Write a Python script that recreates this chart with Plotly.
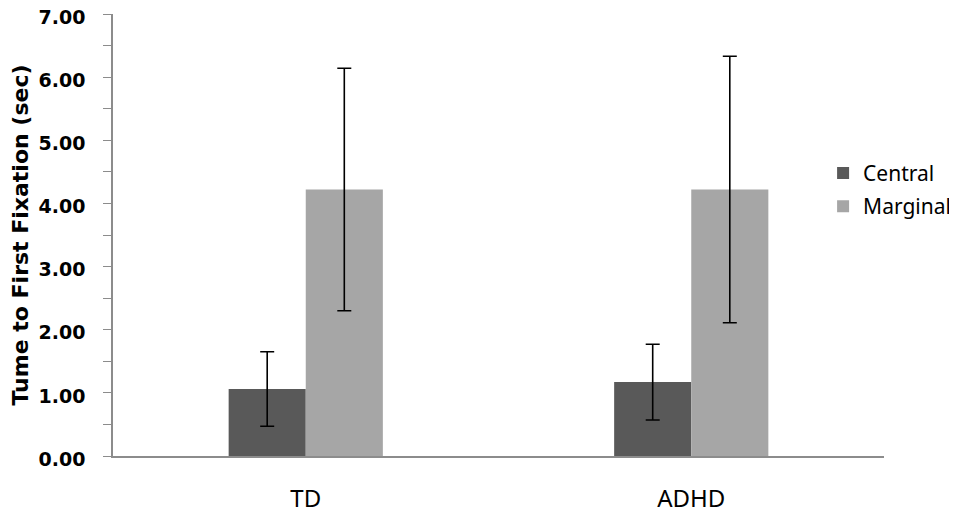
import plotly.graph_objects as go

# --- dados ---
groups = ["TD", "ADHD"]
central = [1.06, 1.17]
central_err = [0.59, 0.60]
marginal = [4.22, 4.22]
marginal_err = [1.92, 2.11]

FONT = "Noto Sans"
BOLD_FONT = "DejaVu Sans"

fig = go.Figure()
fig.add_trace(go.Bar(
    x=groups, y=central, name="Central", legendgroup="c",
    marker=dict(color="#595959", line=dict(width=0)),
    error_y=dict(type="data", array=central_err, color="black", thickness=1.6, width=7),
))
fig.add_trace(go.Bar(
    x=groups, y=marginal, name="Marginal", legendgroup="m",
    marker=dict(color="#a6a6a6", line=dict(width=0)),
    error_y=dict(type="data", array=marginal_err, color="black", thickness=1.6, width=7),
))

# a página tem margem de 8px no body, então a figura é um pouco menor
fig.update_layout(
    width=949, height=505,
    margin=dict(l=105, r=73, t=6, b=57, autoexpand=False),
    plot_bgcolor="white", paper_bgcolor="white",
    barmode="group", bargap=0.6, bargroupgap=0,
    font=dict(family=FONT, color="black"),
    legend=dict(x=0.921, y=0.686, xanchor="left", yanchor="top",
                font=dict(size=21, family=FONT), bgcolor="rgba(0,0,0,0)",
                itemwidth=30, tracegroupgap=3),
    xaxis=dict(
        range=[-0.5, 1.5], showline=True, linecolor="#8c8c8c", linewidth=1.5,
        ticks="", tickfont=dict(size=24, family=FONT), ticklabelstandoff=20,
        showgrid=False, automargin=False,
    ),
    yaxis=dict(
        range=[0, 7], dtick=1, tickformat=".2f",
        showline=True, linecolor="#8c8c8c", linewidth=1.5,
        ticks="outside", ticklen=8, tickcolor="#8c8c8c", tickwidth=1.2,
        minor=dict(dtick=0.5, ticks="outside", ticklen=8, tickcolor="#8c8c8c", tickwidth=1.2),
        showgrid=False, zeroline=False, automargin=False,
        tickfont=dict(size=19, family=BOLD_FONT, weight="bold"),
        ticklabelstandoff=14, ticklabeloverflow="allow", ticklabelshift=3,
        title=dict(text="<b>Tume to First Fixation (sec)</b>", font=dict(size=22, family=BOLD_FONT),
                   standoff=10),
    ),
)

fig.write_html("out.html")
